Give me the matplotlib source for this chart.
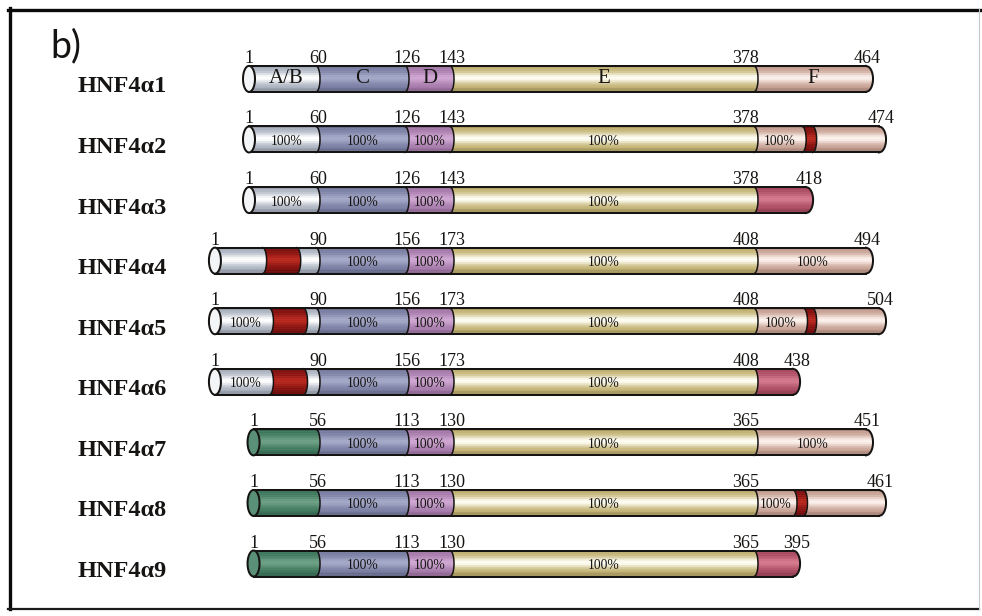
import numpy as np
import matplotlib
matplotlib.use("Agg")
import matplotlib.pyplot as plt
from matplotlib.patches import Polygon
from matplotlib.lines import Line2D
from matplotlib import transforms

# ------------------------------------------------------------------ data
isoforms = ["HNF4α1", "HNF4α2", "HNF4α3", "HNF4α4", "HNF4α5",
            "HNF4α6", "HNF4α7", "HNF4α8", "HNF4α9"]
c_start = [60, 60, 60, 90, 90, 90, 56, 56, 56]
d_start = [126, 126, 126, 156, 156, 156, 113, 113, 113]
e_start = [143, 143, 143, 173, 173, 173, 130, 130, 130]
f_start = [378, 378, 378, 408, 408, 408, 365, 365, 365]
c_end = [464, 474, 418, 494, 504, 438, 451, 461, 395]
n_kind = ["AB", "AB", "AB", "AB", "AB", "AB", "green", "green", "green"]
c_kind = ["F", "F", "alt", "F", "F", "alt", "F", "F", "alt"]
n_red = [None, None, None, (43, 73), (49, 79), (49, 79), None, None, None]
f_insert = [None, (415, 423), None, None, (446, 453), None, None, (395, 403), None]
n_label = ["A/B", "100%", "100%", "", "100%", "100%", "", "", ""]
c_label = ["C"] + ["100%"] * 8
d_label = ["D"] + ["100%"] * 8
e_label = ["E"] + ["100%"] * 8
f_label = ["F", "100%", "", "100%", "100%", "", "100%", "100%", ""]
ref_domains = [1, 60, 126, 143, 378, 464]      # HNF4α1 domain boundaries
panel_label = "b)"

# ------------------------------------------------------------------ style
W_PX, H_PX = 982, 616
DRAWN = np.array([0, 67, 156, 201, 505, 617], float)   # schematic (not-to-scale) drawn widths
X0_PX = 249.0
ROW_TOP_PX, ROW_STEP_PX = 78.9, 60.58
BAR_H = 26.0
C_INT, C_END, ELL_W = 4.0, 7.0, 6.0
SERIF = ["Liberation Serif", "DejaVu Serif"]
INK = "#161412"

COLORS = {  # edge colour, highlight colour
    "AB": ("#a7afbd", "#ffffff"),
    "C": ("#767ba0", "#a4a8c8"),
    "D": ("#a377a8", "#cfa6d2"),
    "E": ("#bfae6c", "#fffef4"),
    "F": ("#c49c8e", "#fcf1ec"),
    "alt": ("#a9485f", "#d4788c"),
    "red": ("#7e0e0c", "#b8261c"),
    "green": ("#3b755a", "#6b9f83"),
}
ELL_FACE = {"AB": "#f3f5f7", "green": "#5a9077"}

REF = np.array(ref_domains, float)
S_LO = (DRAWN[1] - DRAWN[0]) / (REF[1] - REF[0])
S_HI = (DRAWN[-1] - DRAWN[-2]) / (REF[-1] - REF[-2])


def fwd(a):
    a = np.asarray(a, float)
    out = np.interp(a, REF, DRAWN)
    out = np.where(a < REF[0], DRAWN[0] + (a - REF[0]) * S_LO, out)
    out = np.where(a > REF[-1], DRAWN[-1] + (a - REF[-1]) * S_HI, out)
    return out


def inv(u):
    u = np.asarray(u, float)
    out = np.interp(u, DRAWN, REF)
    out = np.where(u < DRAWN[0], REF[0] + (u - DRAWN[0]) / S_LO, out)
    out = np.where(u > DRAWN[-1], REF[-1] + (u - DRAWN[-1]) / S_HI, out)
    return out


REF_ANCH = REF[1:5]


def align(i, p):
    anch = np.array([c_start[i], d_start[i], e_start[i], f_start[i]], float)
    p = np.asarray(p, float)
    out = np.interp(p, anch, REF_ANCH)
    out = np.where(p < anch[0], REF_ANCH[0] + p - anch[0], out)
    out = np.where(p > anch[-1], REF_ANCH[-1] + p - anch[-1], out)
    return out


def segments(i):
    segs = []
    c, d, e, f, end = c_start[i], d_start[i], e_start[i], f_start[i], c_end[i]
    nk = n_kind[i]
    if n_red[i]:
        r0, r1 = n_red[i]
        segs += [(nk, 1, r0, n_label[i]), ("red", r0, r1, ""), (nk, r1, c, "")]
    else:
        segs.append((nk, 1, c, n_label[i]))
    segs += [("C", c, d, c_label[i]), ("D", d, e, d_label[i]), ("E", e, f, e_label[i])]
    ck = c_kind[i]
    if f_insert[i]:
        i0, i1 = f_insert[i]
        segs += [(ck, f, i0, f_label[i]), ("red", i0, i1, ""), (ck, i1, end, "")]
    else:
        segs.append((ck, f, end, f_label[i]))
    return segs


def mix(c1, c2, w):
    a = np.array(matplotlib.colors.to_rgb(c1))
    b = np.array(matplotlib.colors.to_rgb(c2))
    return tuple(a * (1 - w) + b * w)


# ------------------------------------------------------------------ figure
fig = plt.figure(figsize=(W_PX / 100, H_PX / 100), dpi=100)
ax = fig.add_axes([0, 0, 1, 1])
ax.set_xscale("function", functions=(fwd, inv))
ax.set_xlim(float(inv(-X0_PX)), float(inv(W_PX - X0_PX)))
ax.set_ylim((H_PX - ROW_TOP_PX) / ROW_STEP_PX, -ROW_TOP_PX / ROW_STEP_PX)
ax.axis("off")


def to_data(pts):
    return ax.transData.inverted().transform(np.asarray(pts, float))


half = BAR_H / 2
N_STRIP = 14
for i, name in enumerate(isoforms):
    segs = segments(i)
    bounds = [segs[0][1]] + [s[2] for s in segs]
    ax_x = align(i, bounds)
    disp = ax.transData.transform(np.column_stack([ax_x, np.full(len(ax_x), i)]))
    xs = disp[:, 0]
    yc = disp[0, 1]
    nseg = len(segs)

    # fills with cylindrical shading
    for j, (kind, a0, a1, lab) in enumerate(segs):
        L, R = xs[j], xs[j + 1]
        cL = 0.0 if j == 0 else C_INT
        cR = C_END if j == nseg - 1 else C_INT
        edge, hi = COLORS[kind]
        for k in range(N_STRIP):
            sa = 1 - 2 * k / N_STRIP
            sb = 1 - 2 * (k + 1) / N_STRIP
            t = (k + 0.5) / N_STRIP
            w = np.exp(-((t - 0.47) / 0.21) ** 2)
            col = mix(edge, hi, w)
            if t > 0.85 or t < 0.08:
                col = mix(col, "#000000", 0.12)
            ss = np.linspace(sa, sb, 5)
            rx = R + cR * np.sqrt(np.clip(1 - ss ** 2, 0, 1))
            lx = L + cL * np.sqrt(np.clip(1 - ss ** 2, 0, 1))
            pts = np.concatenate([np.column_stack([rx, yc + half * ss]),
                                  np.column_stack([lx[::-1], yc + half * ss[::-1]])])
            ax.add_patch(Polygon(to_data(pts), closed=True, facecolor=col,
                                 edgecolor=col, lw=0.4, zorder=2))
        if lab:
            x0 = L + (ELL_W if j == 0 else cL / 2)
            xm = (x0 + R + cR / 2) / 2
            if lab == "100%":
                p = to_data([[xm, yc - 2]])[0]
                ax.text(p[0], p[1], lab, fontsize=9.8, family=SERIF, color=INK,
                        ha="center", va="center", zorder=5)
            else:
                p = to_data([[xm, yc]])[0]
                ax.text(p[0], p[1], lab, fontsize=15, family=SERIF, color=INK,
                        ha="center", va="center", zorder=5)

    # outlines
    ss = np.linspace(1, -1, 31)
    arc = np.sqrt(np.clip(1 - ss ** 2, 0, 1))
    lw = 1.45
    for yy in (yc + half, yc - half):
        d = to_data([[xs[0], yy], [xs[-1], yy]])
        ax.add_line(Line2D(d[:, 0], d[:, 1], color=INK, lw=lw, zorder=4))
    for j in range(1, nseg):
        d = to_data(np.column_stack([xs[j] + C_INT * arc, yc + half * ss]))
        ax.add_line(Line2D(d[:, 0], d[:, 1], color=INK, lw=1.1, zorder=4))
    d = to_data(np.column_stack([xs[-1] + C_END * arc, yc + half * ss]))
    ax.add_line(Line2D(d[:, 0], d[:, 1], color=INK, lw=lw, zorder=4))
    th = np.linspace(0, 2 * np.pi, 60)
    ell = to_data(np.column_stack([xs[0] + ELL_W * np.cos(th), yc + half * np.sin(th)]))
    ax.add_patch(Polygon(ell, closed=True, facecolor=ELL_FACE[n_kind[i]],
                         edgecolor=INK, lw=lw, zorder=4))

    # residue numbers above the bar
    ybase = yc + half + 3
    b = list(bounds)
    labels_pos = [(bounds[0], xs[0], "center")]
    for val in (c_start[i], d_start[i], e_start[i]):
        jj = b.index(val)
        labels_pos.append((val, xs[jj] + C_INT / 2, "center"))
    jf = b.index(f_start[i])
    labels_pos.append((f_start[i], xs[jf] + 5, "right"))
    if c_kind[i] == "F":
        labels_pos.append((c_end[i], xs[-1] + C_END + 8, "right"))
    else:
        labels_pos.append((c_end[i], xs[-1] + C_END / 2, "center"))
    for val, xpx, ha in labels_pos:
        p = to_data([[xpx, ybase]])[0]
        ax.text(p[0], p[1], str(val), fontsize=13, family=SERIF, color=INK,
                ha=ha, va="baseline", zorder=5)

    # isoform name
    p = to_data([[0, yc - 8]])[0]
    ax.text(78 / W_PX, p[1], name,
            transform=transforms.blended_transform_factory(ax.transAxes, ax.transData),
            fontsize=17.5, fontweight="bold", family=SERIF, color=INK,
            ha="left", va="center", zorder=5)

# panel label
fig.text(50 / W_PX, 1 - 46 / H_PX, panel_label, fontsize=27, family=["Lato", "DejaVu Sans"],
         color=INK, ha="left", va="center")

# frame
ft = fig.transFigure
fig.add_artist(Line2D([9.5 / W_PX, 9.5 / W_PX], [1 - 8 / H_PX, 1 - 609 / H_PX], color="#0a0a0a", lw=2.4, transform=ft))
fig.add_artist(Line2D([8 / W_PX, 1.0], [1 - 9.5 / H_PX, 1 - 9.5 / H_PX], color="#0a0a0a", lw=2.4, transform=ft))
fig.add_artist(Line2D([8 / W_PX, 979 / W_PX], [1 - 608.5 / H_PX, 1 - 608.5 / H_PX], color="#1a1a1a", lw=1.6, transform=ft))
fig.add_artist(Line2D([978.5 / W_PX, 978.5 / W_PX], [1 - 9 / H_PX, 1 - 609 / H_PX], color="#c8c8c8", lw=0.8, transform=ft))

fig.savefig("out.png", dpi=100)
